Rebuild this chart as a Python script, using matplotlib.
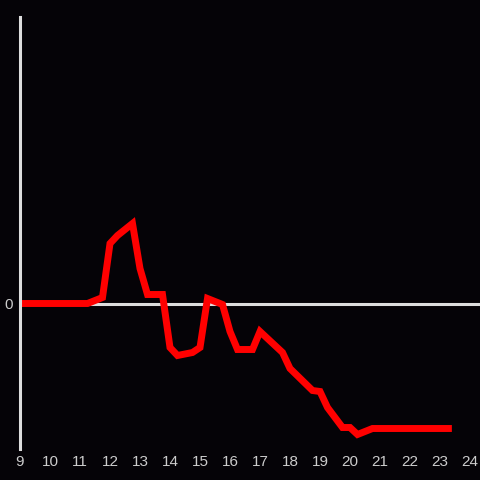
import matplotlib
matplotlib.use('Agg')
import matplotlib.pyplot as plt

# hours of the day and the value at each
hours = [9.0, 11.25, 11.75, 12.0, 12.25, 12.75, 13.0, 13.25, 13.75, 14.0, 14.25, 14.75,
         15.0, 15.25, 15.75, 16.0, 16.25, 16.75, 17.0, 17.75, 18.0, 18.75, 19.0, 19.25,
         19.75, 20.0, 20.25, 20.75, 23.28]
values = [0, 0, 6, 60, 68, 80, 35, 9, 9, -44, -52, -49,
          -44, 5, -1, -28, -46, -46, -28, -49, -65, -87, -88, -104,
          -124, -124, -131, -125, -125]

x_ticks = list(range(9, 25))

bg = '#050307'
axis_col = '#dddddd'

fig = plt.figure(figsize=(4.8, 4.8), dpi=100, facecolor=bg)
ax = fig.add_axes([20 / 480, 31.5 / 480, 460 / 480, 432 / 480])
ax.set_facecolor(bg)

ax.axhline(0, color=axis_col, lw=2.2, zorder=1)
ax.plot(hours, values, color='#ff0000', lw=5, solid_joinstyle='miter', zorder=2)

ax.set_xlim(9, 9 + 460 / 30)
ax.set_ylim(-145, 287)

for s in ['top', 'right', 'bottom']:
    ax.spines[s].set_visible(False)
ax.spines['left'].set_color(axis_col)
ax.spines['left'].set_linewidth(2.2)

ax.set_xticks(x_ticks)
ax.set_xticklabels([str(t) for t in x_ticks])
ax.set_yticks([0])
ax.set_yticklabels(['0'])
ax.tick_params(length=0, colors='#cccccc', labelsize=11, pad=5)
for lab in ax.get_xticklabels() + ax.get_yticklabels():
    lab.set_family('Liberation Sans')

fig.savefig('out.png', dpi=100, facecolor=bg)
